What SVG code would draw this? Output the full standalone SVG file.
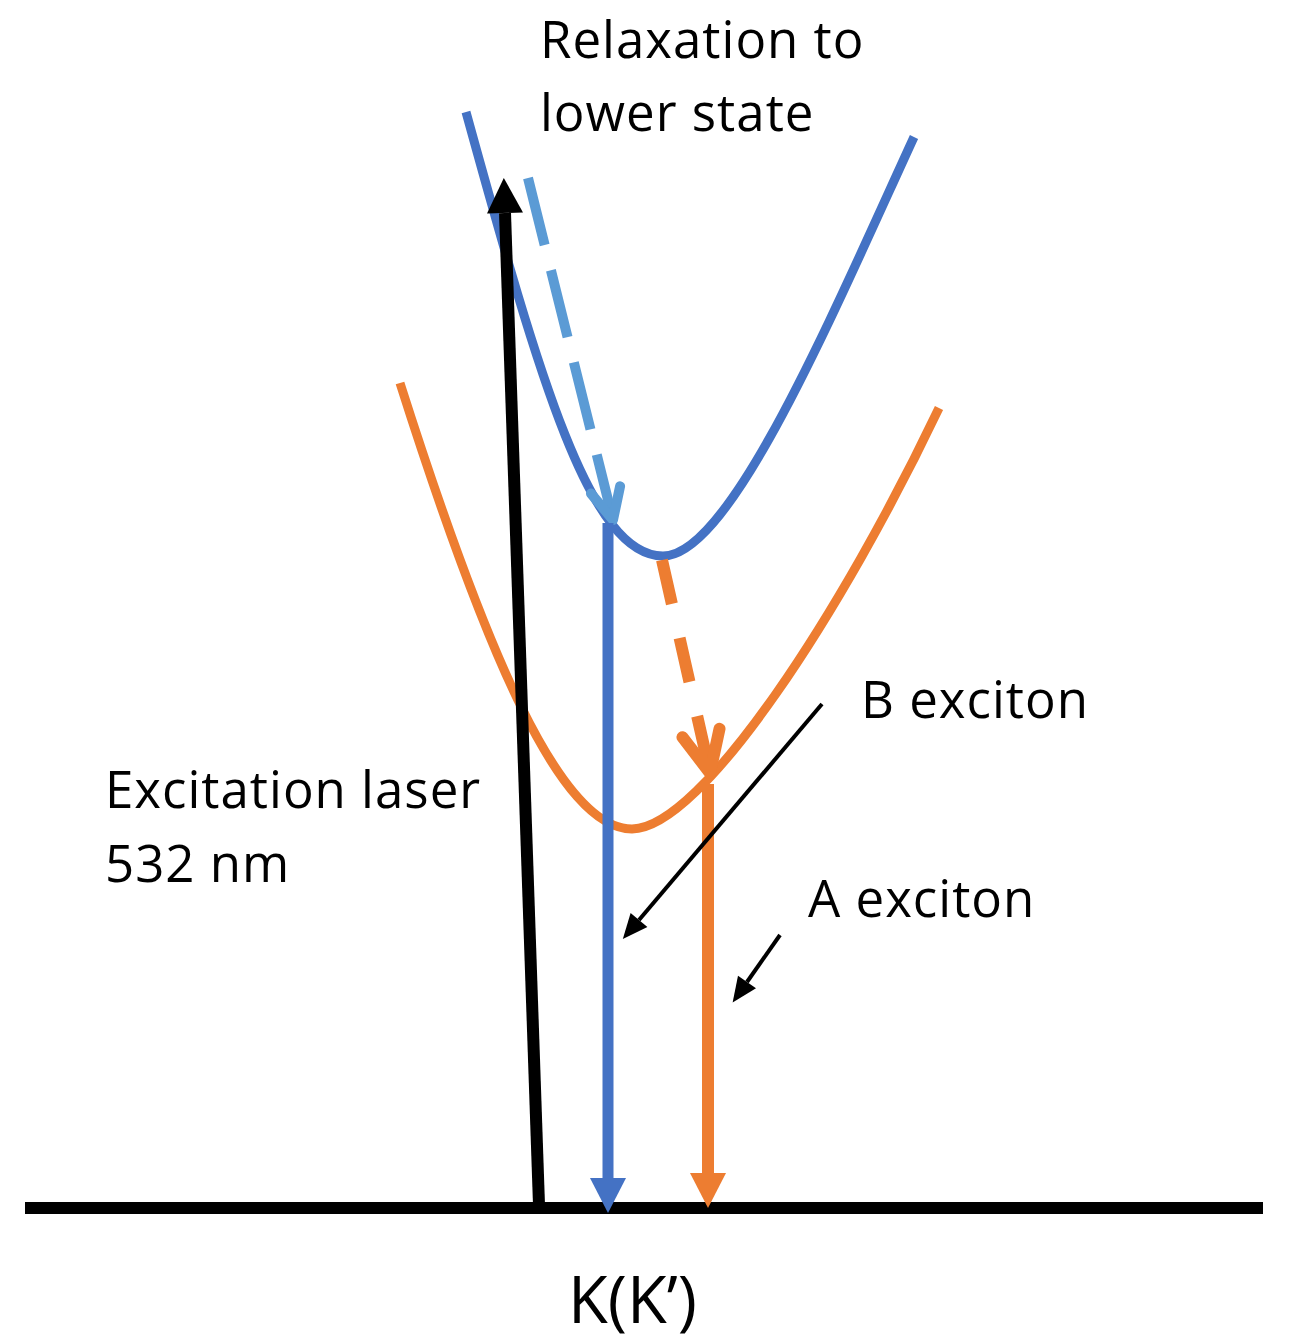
<svg xmlns="http://www.w3.org/2000/svg" width="1290" height="1343" viewBox="0 0 1290 1343">
<style>
  .lbl { font-family: "Open Sans", "Liberation Sans", sans-serif; font-size: 51px; letter-spacing: 1px; fill: #000; }
  .axis { font-size: 65px; letter-spacing: 0; }
  .curve { fill: none; stroke-width: 9; stroke-linecap: butt; }
  .blue { stroke: #4472C4; }
  .orange { stroke: #ED7D31; }
  .lblue { stroke: #5B9BD5; }
  .thin { stroke: #000; stroke-width: 4; fill: none; }
</style>
<defs>
  <marker id="headBlack" markerUnits="userSpaceOnUse" orient="auto" refX="0" refY="18" markerWidth="36" markerHeight="36" overflow="visible">
    <path d="M0,0 L35,18 L0,36 Z" fill="#000"/>
  </marker>
  <marker id="headBlue" markerUnits="userSpaceOnUse" orient="auto" refX="0" refY="18" markerWidth="36" markerHeight="36" overflow="visible">
    <path d="M0,0 L35,18 L0,36 Z" fill="#4472C4"/>
  </marker>
  <marker id="headOrange" markerUnits="userSpaceOnUse" orient="auto" refX="0" refY="18" markerWidth="36" markerHeight="36" overflow="visible">
    <path d="M0,0 L35,18 L0,36 Z" fill="#ED7D31"/>
  </marker>
  <marker id="headThin" markerUnits="userSpaceOnUse" orient="auto" refX="0" refY="11" markerWidth="26" markerHeight="22" overflow="visible">
    <path d="M0,0 L25,11 L0,22 Z" fill="#000"/>
  </marker>
  <marker id="chevLBlue" markerUnits="userSpaceOnUse" orient="auto" refX="0" refY="0" markerWidth="1" markerHeight="1" overflow="visible">
    <path d="M-31,-15 L0,0 L-31,15" fill="none" stroke="#5B9BD5" stroke-width="10" stroke-linecap="round" stroke-linejoin="round"/>
  </marker>
  <marker id="chevOrange" markerUnits="userSpaceOnUse" orient="auto" refX="0" refY="0" markerWidth="1" markerHeight="1" overflow="visible">
    <path d="M-41,-19 L0,0 L-41,19" fill="none" stroke="#ED7D31" stroke-width="12" stroke-linecap="round" stroke-linejoin="round"/>
  </marker>
</defs>
<rect x="0" y="0" width="1290" height="1343" fill="#fff"/>

<g id="baseline">
  <line x1="25" y1="1208" x2="1263" y2="1208" stroke="#000" stroke-width="12"/>
</g>

<g id="curves">
  <path id="curve-B" class="curve blue" d="M466,112 C540,380 590,556 663,556 C730,556 830,320 914,137"/>
  <path id="curve-A" class="curve orange" d="M400,383 C485,650 560,829 632,829 C702,829 844,608 939,408"/>
</g>

<g id="connectors">
  <path id="relax-B" class="lblue" d="M528,178 L613,520" stroke-width="10" stroke-dasharray="69 26" fill="none" marker-end="url(#chevLBlue)"/>
  <path id="relax-A" class="orange" d="M662,560 L710,773" stroke-width="12" stroke-dasharray="45 35 45 35 60" fill="none" marker-end="url(#chevOrange)"/>
  <line id="emit-B" x1="608" y1="523" x2="608" y2="1178" stroke="#4472C4" stroke-width="11" marker-end="url(#headBlue)"/>
  <line id="emit-A" x1="708" y1="784" x2="708" y2="1173" stroke="#ED7D31" stroke-width="12" marker-end="url(#headOrange)"/>
  <line id="excite" x1="539" y1="1205" x2="505" y2="213" stroke="#000" stroke-width="12" marker-end="url(#headBlack)"/>
  <line id="ptr-B" class="thin" x1="822" y1="704" x2="639" y2="920" marker-end="url(#headThin)"/>
  <line id="ptr-A" class="thin" x1="780" y1="935" x2="747" y2="982" marker-end="url(#headThin)"/>
</g>

<g id="label-relax">
  <text class="lbl" x="540" y="58">Relaxation to</text>
  <text class="lbl" x="540" y="131">lower state</text>
</g>
<g id="label-excite">
  <text class="lbl" x="105" y="808">Excitation laser</text>
  <text class="lbl" x="105" y="882">532 nm</text>
</g>
<g id="label-B">
  <text class="lbl" x="861" y="718">B exciton</text>
</g>
<g id="label-A">
  <text class="lbl" x="808" y="917">A exciton</text>
</g>
<g id="label-K">
  <text class="lbl axis" x="568" y="1323">K(K’)</text>
</g>
</svg>
